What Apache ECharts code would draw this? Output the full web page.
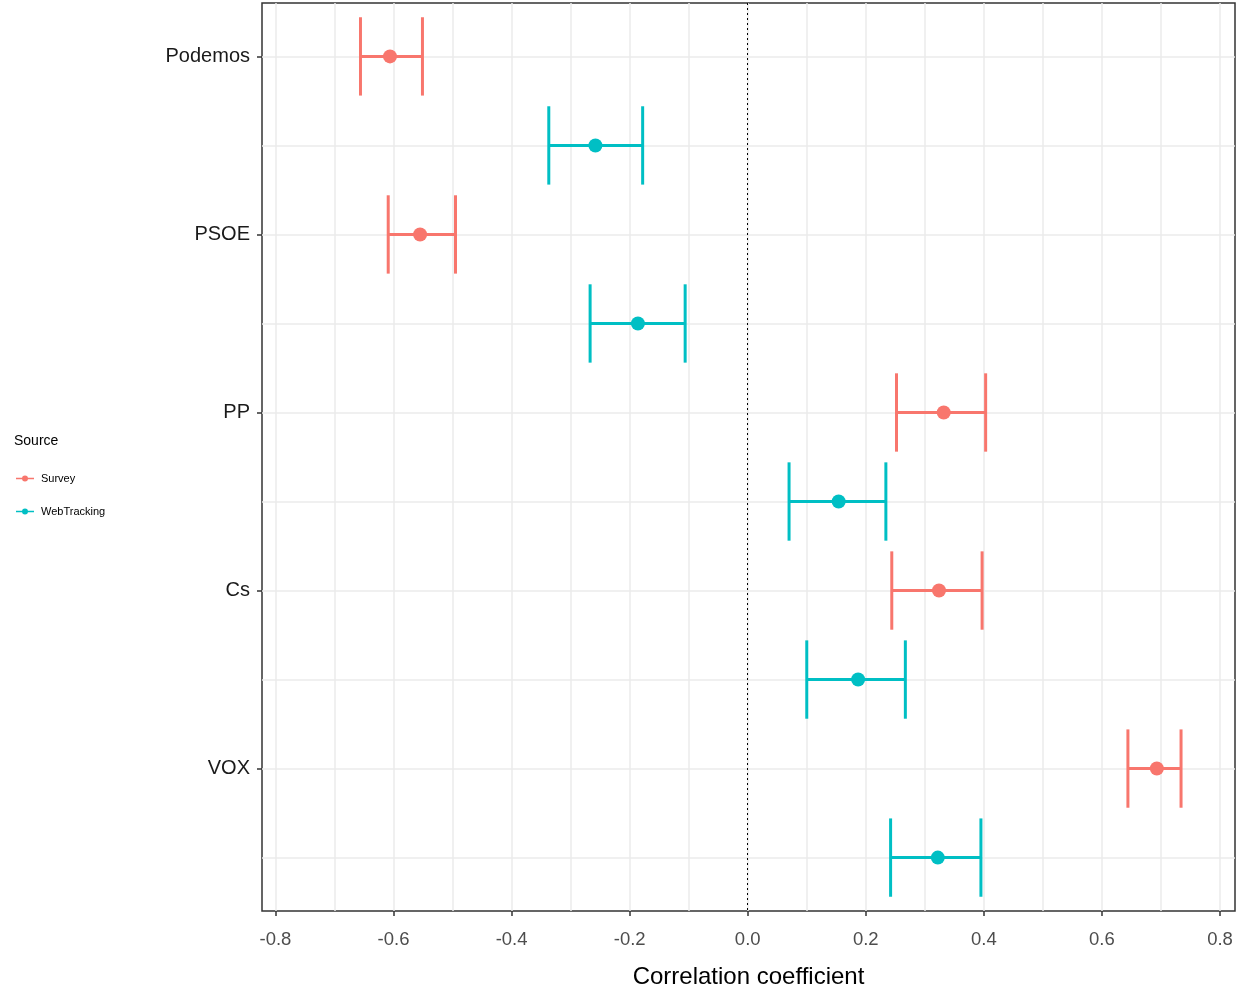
<!DOCTYPE html>
<html>
<head>
<meta charset="utf-8">
<script src="https://cdn.jsdelivr.net/npm/echarts@6/dist/echarts.min.js"></script>
<style>
html,body{margin:0;padding:0;background:#fff;}
#chart{width:1258px;height:994px;}
</style>
</head>
<body>
<div id="chart"></div>
<script>
// ---- data ----
const parties = ['Podemos', 'PSOE', 'PP', 'Cs', 'VOX'];
const sources = ['Survey', 'WebTracking'];
const surveyEst  = [-0.606, -0.555, 0.332, 0.324, 0.693];
const surveyLow  = [-0.656, -0.609, 0.252, 0.244, 0.644];
const surveyHigh = [-0.551, -0.495, 0.403, 0.397, 0.734];
const webEst  = [-0.258, -0.186, 0.154, 0.187, 0.322];
const webLow  = [-0.337, -0.267, 0.070, 0.100, 0.242];
const webHigh = [-0.178, -0.106, 0.234, 0.267, 0.395];
const xTicks = [-0.8, -0.6, -0.4, -0.2, 0.0, 0.2, 0.4, 0.6, 0.8];
const xGrid = [-0.8, -0.7, -0.6, -0.5, -0.4, -0.3, -0.2, -0.1, 0.0, 0.1, 0.2, 0.3, 0.4, 0.5, 0.6, 0.7, 0.8];
const xTitle = 'Correlation coefficient';
const legendTitle = 'Source';

const colors = {Survey: '#F8766D', WebTracking: '#00BFC4'};
const FONT = "'Liberation Sans', Arial, sans-serif";

// row positions: survey rows 1,3,5,..., webtracking rows 2,4,...
const surveyRows = parties.map((p, i) => 2 * i + 1);
const webRows = parties.map((p, i) => 2 * i + 2);
const allRows = surveyRows.concat(webRows).sort((a, b) => a - b);

function ebData(low, high, rows) {
  return rows.map((r, i) => [low[i], high[i], r]);
}
function ptData(est, rows) {
  return rows.map((r, i) => [est[i], r]);
}

function renderErrorBar(params, api) {
  const lo = api.coord([api.value(0), api.value(2)]);
  const hi = api.coord([api.value(1), api.value(2)]);
  const h = api.size([0, 0.44])[1];
  const style = {stroke: api.visual('color'), lineWidth: 3, fill: null};
  return {
    type: 'group',
    children: [
      {type: 'line', shape: {x1: lo[0], y1: lo[1], x2: hi[0], y2: hi[1]}, style: style},
      {type: 'line', shape: {x1: lo[0], y1: lo[1] - h, x2: lo[0], y2: lo[1] + h}, style: style},
      {type: 'line', shape: {x1: hi[0], y1: hi[1] - h, x2: hi[0], y2: hi[1] + h}, style: style}
    ]
  };
}

const chart = echarts.init(document.getElementById('chart'), null, {renderer: 'canvas'});
const legendIcon = 'path://M0,4.2L18,4.2L18,5.8L0,5.8Z M12,5A3,3 0 1 1 6,5A3,3 0 1 1 12,5Z';

chart.setOption({
  animation: false,
  backgroundColor: '#ffffff',
  title: {
    text: legendTitle, left: 9, top: 429,
    textStyle: {fontFamily: FONT, fontSize: 14, fontWeight: 'normal', color: '#000'}
  },
  legend: {
    orient: 'vertical', left: 16, top: 473, padding: 0,
    itemWidth: 18, itemHeight: 10, itemGap: 22,
    data: sources.map(s => ({name: s, icon: legendIcon})),
    textStyle: {fontFamily: FONT, fontSize: 11, color: '#000', padding: [0, 0, 0, 2]},
    selectedMode: false
  },
  grid: {
    left: 262, top: 3, width: 973, height: 909,
    show: true, borderColor: '#333333', borderWidth: 1.5, backgroundColor: 'transparent',
    containLabel: false
  },
  xAxis: {
    type: 'value', min: -0.8228, max: 0.8254, position: 'bottom',
    name: xTitle, nameLocation: 'middle', nameGap: 54,
    nameTextStyle: {fontFamily: FONT, fontSize: 24, color: '#000'},
    axisLine: {show: false, onZero: false},
    axisTick: {show: true, length: 5, customValues: xTicks, lineStyle: {color: '#333', width: 1.5}},
    axisLabel: {customValues: xTicks, formatter: v => v.toFixed(1), margin: 19,
      fontFamily: FONT, fontSize: 18.5, color: '#4D4D4D'},
    splitLine: {show: false}
  },
  yAxis: {
    type: 'value', inverse: true, min: 0.4, max: 10.6, position: 'left',
    axisLine: {show: false, onZero: false},
    axisTick: {show: true, length: 5, customValues: surveyRows, lineStyle: {color: '#333', width: 1.5}},
    axisLabel: {customValues: surveyRows, formatter: v => parties[(v - 1) / 2] || '',
      margin: 12, padding: [4, 0, 0, 0], fontFamily: FONT, fontSize: 20, color: '#1a1a1a'},
    splitLine: {show: false}
  },
  series: [
    {
      type: 'scatter', name: '_grid', data: [], silent: true, z: 0,
      markLine: {
        silent: true, symbol: 'none', animation: false, z: 0,
        label: {show: false},
        lineStyle: {color: '#EBEBEB', width: 1.5, type: 'solid'},
        emphasis: {disabled: true},
        data: xGrid.map(v => ({xAxis: v})).concat(allRows.map(r => ({yAxis: r})))
      }
    },
    {
      type: 'scatter', name: '_zero', data: [], silent: true, z: 1,
      markLine: {
        silent: true, symbol: 'none', animation: false, z: 1,
        label: {show: false},
        lineStyle: {color: '#000', width: 1, type: [2, 3]},
        emphasis: {disabled: true},
        data: [{xAxis: 0}]
      }
    },
    {
      type: 'custom', name: 'Survey', renderItem: renderErrorBar, z: 3,
      itemStyle: {color: colors.Survey},
      encode: {x: [0, 1], y: 2},
      data: ebData(surveyLow, surveyHigh, surveyRows)
    },
    {
      type: 'custom', name: 'WebTracking', renderItem: renderErrorBar, z: 3,
      itemStyle: {color: colors.WebTracking},
      encode: {x: [0, 1], y: 2},
      data: ebData(webLow, webHigh, webRows)
    },
    {
      type: 'scatter', name: 'Survey', symbol: 'circle', symbolSize: 14, z: 4,
      itemStyle: {color: colors.Survey, opacity: 1},
      data: ptData(surveyEst, surveyRows)
    },
    {
      type: 'scatter', name: 'WebTracking', symbol: 'circle', symbolSize: 14, z: 4,
      itemStyle: {color: colors.WebTracking, opacity: 1},
      data: ptData(webEst, webRows)
    }
  ]
});
</script>
</body>
</html>
